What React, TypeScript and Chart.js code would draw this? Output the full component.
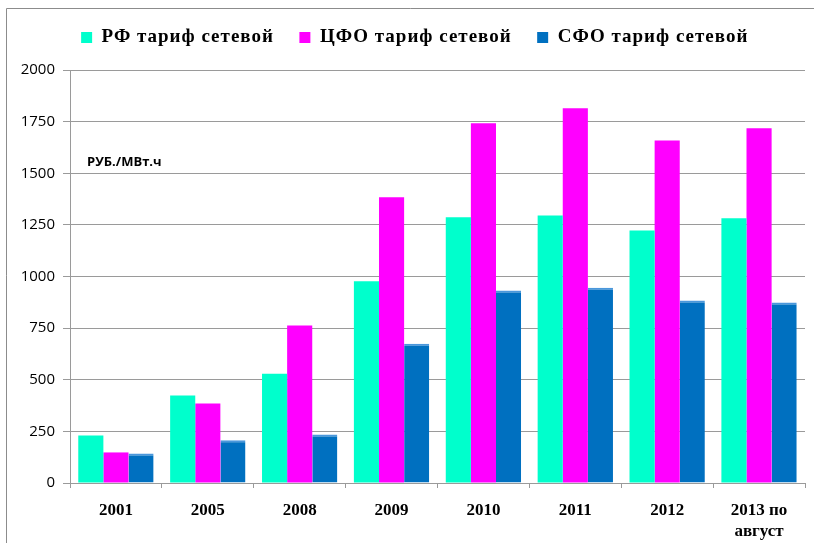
import React, { useEffect, useRef } from 'react';
import { Chart, registerables } from 'chart.js';

Chart.register(...registerables);

const categories: (string | string[])[] = ['2001', '2005', '2008', '2009', '2010', '2011', '2012', ['2013 по', 'август']];
const seriesNames = ['РФ тариф сетевой', 'ЦФО тариф сетевой', 'СФО тариф сетевой'];
const rfValues = [230, 424, 529, 977, 1287, 1295, 1223, 1282];
const cfoValues = [148, 385, 763, 1384, 1742, 1815, 1659, 1718];
const sfoValues = [143, 207, 235, 674, 932, 945, 884, 874];
const yMin = 0;
const yMax = 2000;
const yStep = 250;
const unitLabel = 'РУБ./МВт.ч';

const GRID = '#9a9a9a';
const LEGEND_HEIGHT = 56;
const LEGEND_SHIFT = 18;

const framePlugin = {
  id: 'frameAndUnit',
  beforeLayout(chart: any) {
    const lg = chart.legend;
    if (lg && !lg._patched) {
      lg._patched = true;
      const origFit = lg.fit.bind(lg);
      const origDraw = lg.draw.bind(lg);
      lg.fit = function () {
        const c = this.ctx;
        c.save();
        c.letterSpacing = '1px';
        origFit();
        c.restore();
        this.height = LEGEND_HEIGHT;
      };
      lg.draw = function () {
        const c = this.ctx;
        c.save();
        c.letterSpacing = '1px';
        c.translate(LEGEND_SHIFT, 0);
        origDraw();
        c.restore();
      };
    }
  },
  beforeDraw(chart: any) {
    const { ctx, width, height } = chart;
    ctx.save();
    ctx.strokeStyle = '#8c8c8c';
    ctx.lineWidth = 1;
    ctx.beginPath();
    ctx.moveTo(6.5, height);
    ctx.lineTo(6.5, 8.5);
    ctx.lineTo(width, 8.5);
    ctx.stroke();
    ctx.restore();
  },
  afterDatasetsDraw(chart: any) {
    const { ctx, chartArea } = chart;
    ctx.save();
    ctx.fillStyle = '#000';
    ctx.font = 'bold 13px "Open Sans"';
    ctx.textAlign = 'left';
    ctx.textBaseline = 'middle';
    ctx.fillText(unitLabel, chartArea.left + 17, chartArea.top + 92);
    ctx.restore();
  },
};

export default function App() {
  const ref = useRef<HTMLCanvasElement | null>(null);
  useEffect(() => {
    if (!ref.current) return;
    const chart = new Chart(ref.current, {
      type: 'bar',
      data: {
        labels: categories,
        datasets: [
          { label: seriesNames[0], data: rfValues, backgroundColor: '#00FFCC', borderWidth: 0 },
          { label: seriesNames[1], data: cfoValues, backgroundColor: '#FF00FF', borderWidth: 0 },
          {
            label: seriesNames[2],
            data: sfoValues,
            backgroundColor: '#0070C0',
            borderColor: '#4a97dc',
            borderWidth: { top: 2, left: 0, right: 0, bottom: 0 } as any,
            borderSkipped: false,
          },
        ],
      },
      options: {
        animation: false,
        responsive: false,
        maintainAspectRatio: false,
        layout: { padding: { top: 14, right: 9, left: 0, bottom: 0 } },
        datasets: { bar: { categoryPercentage: 0.82, barPercentage: 1 } },
        plugins: {
          tooltip: { enabled: false },
          legend: {
            position: 'top',
            align: 'center',
            labels: {
              boxWidth: 11,
              boxHeight: 11,
              padding: 14,
              color: '#000',
              font: { family: '"Liberation Serif", "Times New Roman", serif', size: 19, weight: 'bold' },
              generateLabels: (ch: any) =>
                ch.data.datasets.map((ds: any, i: number) => ({
                  text: ds.label + '  ',
                  fillStyle: ds.backgroundColor,
                  strokeStyle: ds.backgroundColor,
                  lineWidth: 0,
                  hidden: false,
                  datasetIndex: i,
                })),
            },
          },
        },
        scales: {
          x: {
            offset: true,
            grid: { display: true, drawOnChartArea: false, drawTicks: true, tickLength: 5, offset: true, color: GRID },
            border: { display: true, color: GRID },
            ticks: {
              color: '#000',
              padding: 12,
              maxRotation: 0,
              autoSkip: false,
              font: { family: '"Liberation Serif", "Times New Roman", serif', size: 17, weight: 'bold', lineHeight: 1.25 },
            },
            afterFit: (s: any) => { s.height = 60; },
          },
          y: {
            min: yMin,
            max: yMax,
            grid: { color: GRID, tickLength: 7, drawTicks: true },
            border: { display: true, color: GRID },
            ticks: {
              stepSize: yStep,
              color: '#000',
              padding: 8,
              font: { family: '"Open Sans", sans-serif', size: 15 },
              callback: (v: any) => String(v),
            },
            afterFit: (s: any) => { s.width = 70; },
          },
        },
      },
      plugins: [framePlugin],
    });
    return () => chart.destroy();
  }, []);
  return (
    <div style={{ position: 'fixed', left: 0, top: 0, width: 814, height: 543, background: '#fff' }}>
      <canvas ref={ref} width={814} height={543} style={{ display: 'block' }} />
    </div>
  );
}
